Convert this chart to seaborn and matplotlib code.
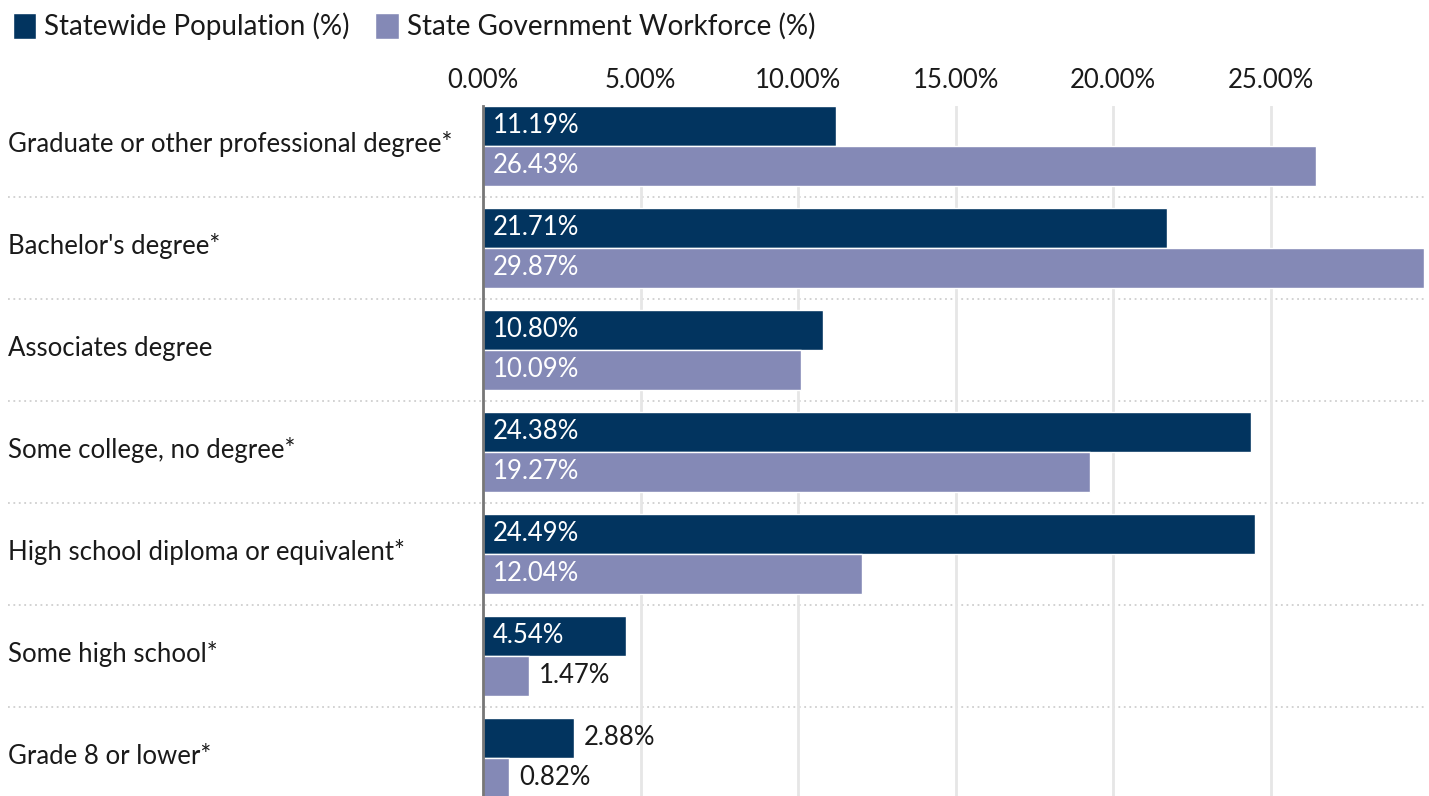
import matplotlib
matplotlib.use("Agg")
import matplotlib.pyplot as plt
import matplotlib.transforms as mtransforms
import seaborn as sns
import pandas as pd
from matplotlib.ticker import FuncFormatter

categories = ["Graduate or other professional degree*", "Bachelor's degree*", "Associates degree",
              "Some college, no degree*", "High school diploma or equivalent*", "Some high school*",
              "Grade 8 or lower*"]
series_names = ["Statewide Population (%)", "State Government Workforce (%)"]
statewide_pop = [11.19, 21.71, 10.80, 24.38, 24.49, 4.54, 2.88]
gov_workforce = [26.43, 29.87, 10.09, 19.27, 12.04, 1.47, 0.82]
x_ticks = [0, 5, 10, 15, 20, 25]

colors = ["#02345F", "#8489B6"]

df = pd.DataFrame({
    "category": categories * 2,
    "series": [series_names[0]] * len(categories) + [series_names[1]] * len(categories),
    "value": statewide_pop + gov_workforce,
})

sns.set_theme(style="white")
plt.rcParams['font.family'] = ['Lato', 'DejaVu Sans']
plt.rcParams['text.color'] = '#1a1a1a'

FS = 18.5
W, H = 1429, 796
fig = plt.figure(figsize=(W / 100, H / 100), dpi=100)
ax = fig.add_axes([483 / W, 0, 941 / W, 1 - 106 / H])

sns.barplot(data=df, y="category", x="value", hue="series", orient="h",
            palette=colors, width=0.784, saturation=1, ax=ax, order=categories,
            hue_order=series_names)

ax.set_xlim(0, 29.87)
ax.set_ylim(-0.392 + (796 - 106) / 102, -0.392)
ax.set_xlabel("")
ax.set_ylabel("")

# x axis on top
ax.xaxis.tick_top()
ax.set_xticks(x_ticks)
ax.xaxis.set_major_formatter(FuncFormatter(lambda v, p: f"{v:.2f}%"))
ax.tick_params(axis="x", length=0, pad=9, labelsize=FS, labelcolor="#1a1a1a")
ax.grid(axis="x", color="#e6e6e6", linewidth=2)
ax.set_axisbelow(True)

# y labels left-aligned at left edge of figure (drawn as text, nudged up slightly)
ax.set_yticks(range(len(categories)))
ax.set_yticklabels([])
ax.tick_params(axis="y", length=0)
lab_tr = mtransforms.blended_transform_factory(ax.transAxes, ax.transData) + \
    mtransforms.ScaledTranslation(0, 4 / 100, fig.dpi_scale_trans)
for i, c in enumerate(categories):
    ax.text(-(483 - 8) / 941, i, c, transform=lab_tr, ha="left", va="center_baseline",
            fontsize=FS, color="#1a1a1a")

for s in ["top", "right", "bottom"]:
    ax.spines[s].set_visible(False)
ax.spines["left"].set_color("#777777")
ax.spines["left"].set_linewidth(2)
ax.spines["left"].set_zorder(5)

# dotted separators between category bands
for i in range(len(categories) - 1):
    ax.axhline(i + 0.5, xmin=-(483 - 8) / 941, xmax=1, color="#cfcfcf",
               linestyle=(0, (1, 2)), linewidth=1.3, clip_on=False, zorder=0)

# value labels
for cont in ax.containers:
    for bar in cont:
        v = bar.get_width()
        y = bar.get_y() + bar.get_height() / 2
        if v > 3.5:
            ax.annotate(f"{v:.2f}%", xy=(0, y), xytext=(7.2, 0), textcoords="offset points",
                        ha="left", va="center", color="white", fontsize=FS)
        else:
            ax.annotate(f"{v:.2f}%", xy=(v, y), xytext=(7.2, 0), textcoords="offset points",
                        ha="left", va="center", color="#1a1a1a", fontsize=FS)

sns.move_legend(ax, "upper left", bbox_to_anchor=(0.0, 1.0), bbox_transform=fig.transFigure,
                ncol=2, frameon=False, title=None, fontsize=20, handlelength=0.85,
                handleheight=1.05, handletextpad=0.3, columnspacing=0.9,
                borderaxespad=0.15, borderpad=0.3)

fig.savefig("out.png", dpi=100)
